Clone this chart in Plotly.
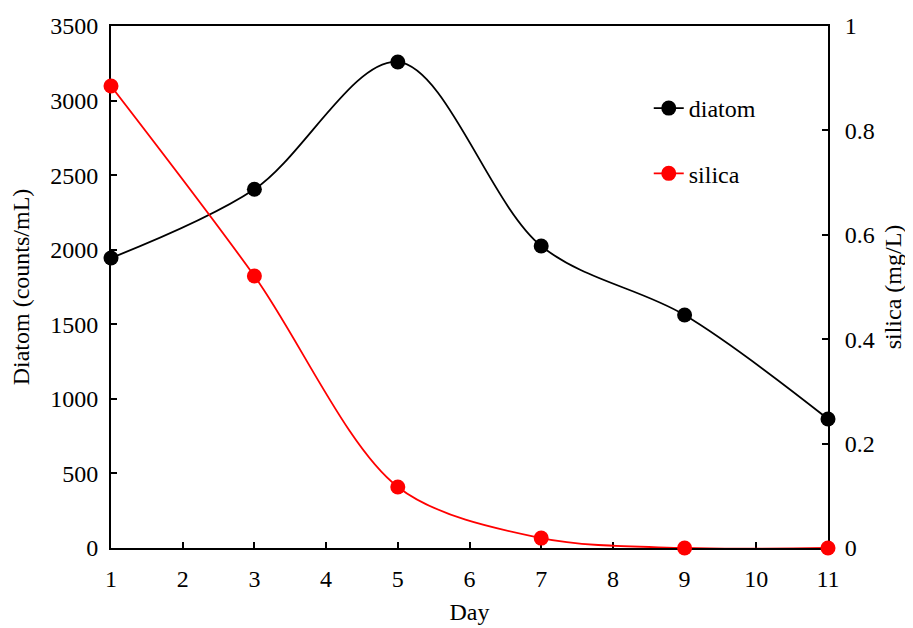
import plotly.graph_objects as go

days = [1, 3, 5, 7, 9, 11]
diatom = [1944, 2405, 3259, 2025, 1562, 865]
silica = [0.885, 0.521, 0.117, 0.019, 0.0, 0.0]

font = dict(family="Liberation Serif, Times New Roman, serif", size=24, color="black")

fig = go.Figure()
fig.add_trace(go.Scatter(x=days, y=diatom, name="diatom", mode="lines+markers",
                         line=dict(color="black", width=1.8, shape="spline", smoothing=0.95),
                         marker=dict(color="black", size=15), yaxis="y", legend="legend",
                         cliponaxis=False))
fig.add_trace(go.Scatter(x=days, y=silica, name="silica", mode="lines+markers",
                         line=dict(color="red", width=1.8, shape="spline", smoothing=0.9),
                         marker=dict(color="red", size=15), yaxis="y2", legend="legend2",
                         cliponaxis=False))

axis_common = dict(showline=True, linecolor="black", linewidth=2, ticks="inside",
                   ticklen=6, tickwidth=1.5, tickcolor="black", showgrid=False,
                   zeroline=False, tickfont=font, automargin=False, layer="below traces")

fig.update_layout(
    width=905, height=620,
    margin=dict(l=103, r=85, t=18, b=80),
    plot_bgcolor="white", paper_bgcolor="white",
    font=font,
    showlegend=True,
    xaxis=dict(range=[1, 11], dtick=1, ticklabelstandoff=8,
               title=dict(text="Day", font=font, standoff=12),
               mirror=True, **axis_common),
    yaxis=dict(range=[0, 3500], dtick=500, ticklabelstandoff=6,
               title=dict(text="Diatom (counts/mL)", font=font, standoff=14),
               **axis_common),
    yaxis2=dict(range=[0, 1], dtick=0.2, overlaying="y", side="right", ticklabelstandoff=10,
                title=dict(text="silica (mg/L)", font=font, standoff=10), **axis_common),
    legend=dict(x=0.75, y=0.842, xanchor="left", yanchor="middle", bgcolor="rgba(0,0,0,0)", font=font),
    legend2=dict(x=0.75, y=0.717, xanchor="left", yanchor="middle", bgcolor="rgba(0,0,0,0)", font=font),
)

fig.write_html("out.html")
